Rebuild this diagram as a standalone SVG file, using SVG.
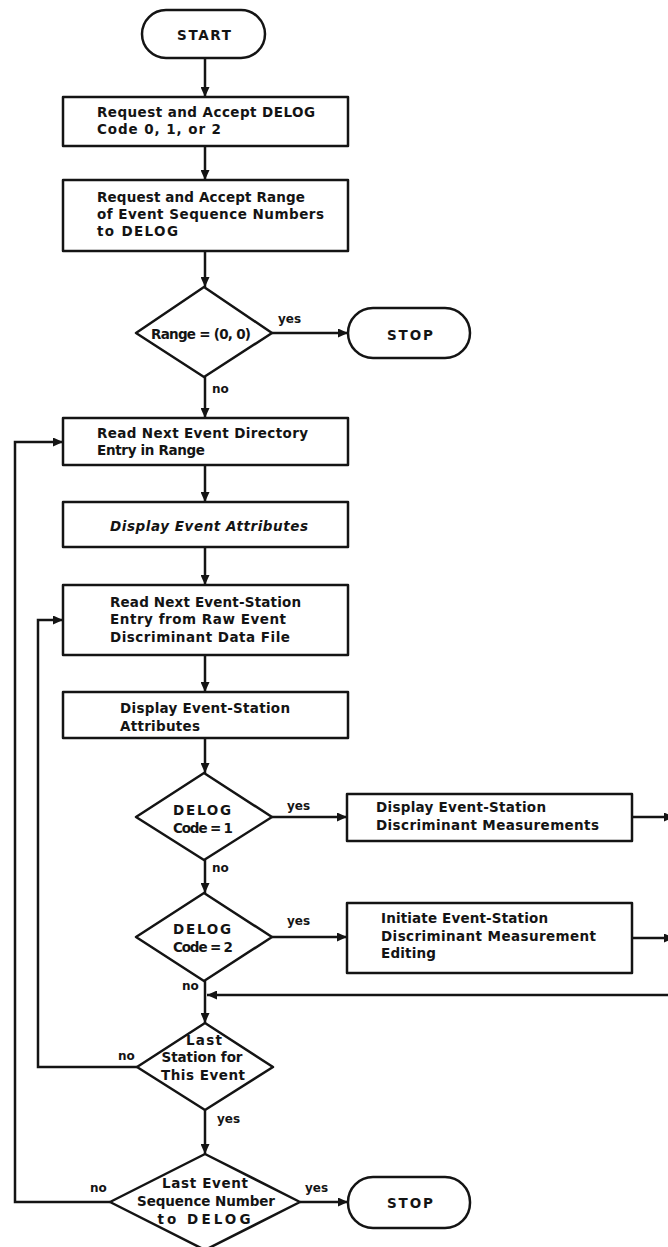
<svg xmlns="http://www.w3.org/2000/svg" width="668" height="1247" viewBox="0 0 668 1247">
  <style>
    .shape { fill: #ffffff; stroke: #141414; stroke-width: 2.5; stroke-linejoin: round; }
    .wire { fill: none; stroke: #141414; stroke-width: 2.5; }
    .lbl { font-family: "DejaVu Sans", "Liberation Sans", sans-serif; font-weight: bold; font-size: 13.5px; fill: #141414; }
    .tag { font-family: "DejaVu Sans", "Liberation Sans", sans-serif; font-weight: bold; font-size: 12px; fill: #141414; }
    .mid { text-anchor: middle; }
  </style>
  <defs>
    <marker id="arrow" markerUnits="userSpaceOnUse" markerWidth="10" markerHeight="9" refX="10" refY="4.5" orient="auto">
      <path d="M0,0 L10,4.5 L0,9 z" fill="#141414"/>
    </marker>
  </defs>

  <rect width="668" height="1247" fill="#ffffff"/>

  <!-- connectors -->
  <g id="connectors" class="wire" marker-end="url(#arrow)">
    <path d="M205 58 V97"/>
    <path d="M205 146 V180"/>
    <path d="M205 251 V287"/>
    <path d="M272 333 H348"/>
    <path d="M205 377 V418"/>
    <path d="M205 465 V502"/>
    <path d="M205 547 V585"/>
    <path d="M205 655 V692"/>
    <path d="M205 738 V773"/>
    <path d="M272 817 H347"/>
    <path d="M632 817 H674"/>
    <path d="M205 860 V893"/>
    <path d="M272 937 H347"/>
    <path d="M632 938 H674"/>
    <path d="M668 995 H207"/>
    <path d="M205 981 V1023"/>
    <path d="M137 1067 H38 V620 H63"/>
    <path d="M205 1110 V1154"/>
    <path d="M110 1202 H15 V442 H63"/>
    <path d="M300 1202 H348"/>
  </g>

  <!-- branch labels -->
  <g id="branch-labels" class="tag">
    <text x="278" y="323">yes</text>
    <text x="212" y="393">no</text>
    <text x="287" y="810">yes</text>
    <text x="212" y="872">no</text>
    <text x="287" y="925">yes</text>
    <text x="182" y="990">no</text>
    <text x="118" y="1060">no</text>
    <text x="217" y="1123">yes</text>
    <text x="90" y="1192">no</text>
    <text x="305" y="1192">yes</text>
  </g>

  <g id="start">
    <rect class="shape" x="142" y="10" width="123" height="48" rx="24"/>
    <text class="lbl mid" x="204" y="40" textLength="54">START</text>
  </g>

  <g id="accept-code">
    <rect class="shape" x="63" y="97" width="285" height="49"/>
    <text class="lbl" x="97" y="117" textLength="218">Request and Accept DELOG</text>
    <text class="lbl" x="97" y="134" textLength="124">Code 0, 1, or 2</text>
  </g>

  <g id="accept-range">
    <rect class="shape" x="63" y="180" width="285" height="71"/>
    <text class="lbl" x="97" y="202" textLength="208">Request and Accept Range</text>
    <text class="lbl" x="97" y="219" textLength="227">of Event Sequence Numbers</text>
    <text class="lbl" x="97" y="236" textLength="81">to DELOG</text>
  </g>

  <g id="range-test">
    <polygon class="shape" points="204,287 272,333 204,377 136,333"/>
    <text class="lbl mid" x="201" y="339" textLength="100">Range = (0, 0)</text>
  </g>

  <g id="stop-1">
    <rect class="shape" x="348" y="308" width="122" height="50" rx="25"/>
    <text class="lbl mid" x="410" y="340" textLength="46">STOP</text>
  </g>

  <g id="read-directory">
    <rect class="shape" x="63" y="418" width="285" height="47"/>
    <text class="lbl" x="97" y="438" textLength="211">Read Next Event Directory</text>
    <text class="lbl" x="97" y="455" textLength="108">Entry in Range</text>
  </g>

  <g id="show-event">
    <rect class="shape" x="63" y="502" width="285" height="45"/>
    <text class="lbl" x="110" y="531" textLength="198" font-style="italic">Display Event Attributes</text>
  </g>

  <g id="read-station">
    <rect class="shape" x="63" y="585" width="285" height="70"/>
    <text class="lbl" x="110" y="607" textLength="191">Read Next Event-Station</text>
    <text class="lbl" x="110" y="624" textLength="176">Entry from Raw Event</text>
    <text class="lbl" x="110" y="642" textLength="180">Discriminant Data File</text>
  </g>

  <g id="show-station">
    <rect class="shape" x="63" y="692" width="285" height="46"/>
    <text class="lbl" x="120" y="713" textLength="170">Display Event-Station</text>
    <text class="lbl" x="120" y="731" textLength="80">Attributes</text>
  </g>

  <g id="code-1-test">
    <polygon class="shape" points="204,773 272,817 204,860 136,817"/>
    <text class="lbl mid" x="202" y="815" textLength="58">DELOG</text>
    <text class="lbl mid" x="203" y="833" textLength="60">Code = 1</text>
  </g>

  <g id="show-measurements">
    <rect class="shape" x="347" y="794" width="285" height="47"/>
    <text class="lbl" x="376" y="812" textLength="170">Display Event-Station</text>
    <text class="lbl" x="376" y="830" textLength="223">Discriminant Measurements</text>
  </g>

  <g id="code-2-test">
    <polygon class="shape" points="204,893 272,937 204,981 136,937"/>
    <text class="lbl mid" x="202" y="934" textLength="58">DELOG</text>
    <text class="lbl mid" x="203" y="952" textLength="60">Code = 2</text>
  </g>

  <g id="edit-measurements">
    <rect class="shape" x="347" y="903" width="285" height="70"/>
    <text class="lbl" x="381" y="923" textLength="167">Initiate Event-Station</text>
    <text class="lbl" x="381" y="941" textLength="215">Discriminant Measurement</text>
    <text class="lbl" x="381" y="958" textLength="55">Editing</text>
  </g>

  <g id="last-station-test">
    <polygon class="shape" points="205,1023 273,1067 205,1110 137,1067"/>
    <text class="lbl mid" x="204" y="1045" textLength="36">Last</text>
    <text class="lbl mid" x="202" y="1062" textLength="81">Station for</text>
    <text class="lbl mid" x="203" y="1080" textLength="84">This Event</text>
  </g>

  <g id="last-event-test">
    <polygon class="shape" points="205,1154 300,1202 205,1250 110,1202"/>
    <text class="lbl mid" x="205" y="1188" textLength="86">Last Event</text>
    <text class="lbl mid" x="206" y="1206" textLength="138">Sequence Number</text>
    <text class="lbl mid" x="204" y="1224" textLength="93">to DELOG</text>
  </g>

  <g id="stop-2">
    <rect class="shape" x="348" y="1177" width="122" height="51" rx="25"/>
    <text class="lbl mid" x="410" y="1208" textLength="46">STOP</text>
  </g>
</svg>
